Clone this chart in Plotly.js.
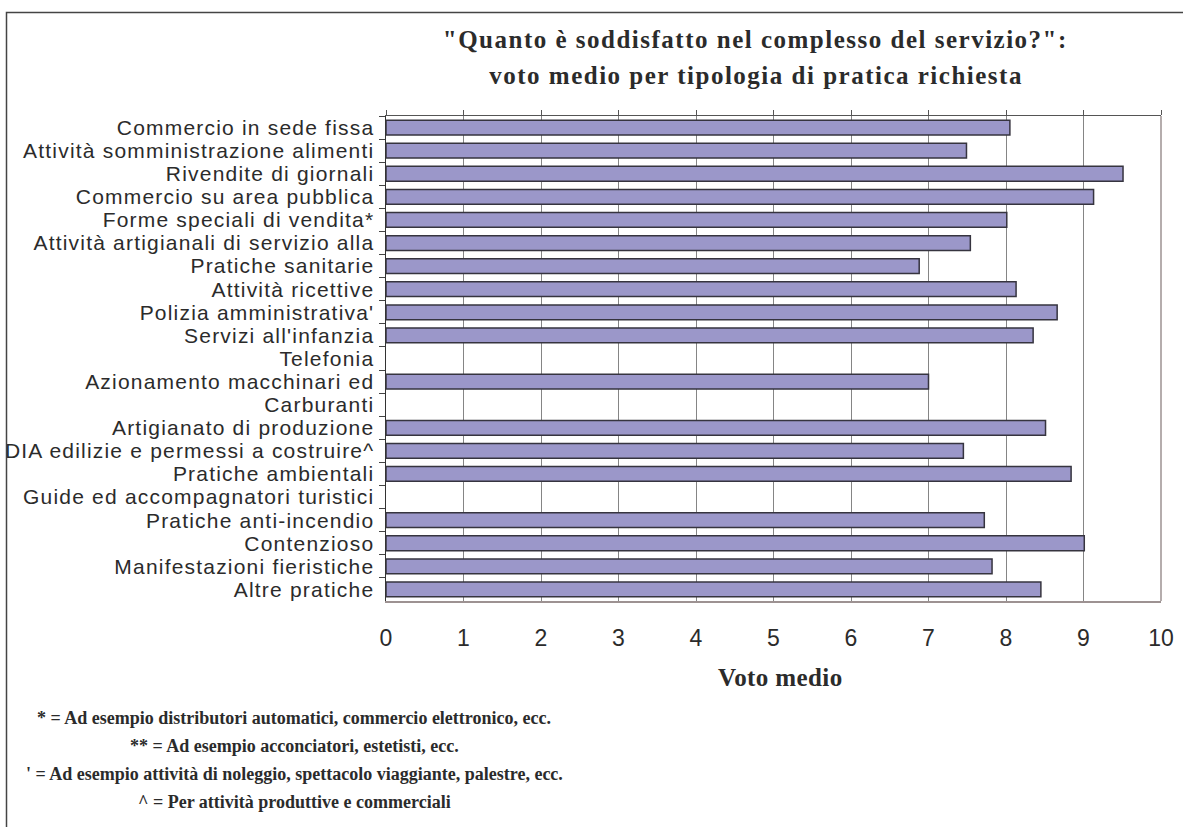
<!DOCTYPE html>
<html>
<head>
<meta charset="utf-8">
<script src="https://cdn.plot.ly/plotly-3.0.1.min.js"></script>
<style>
  html, body { margin: 0; padding: 0; background: #ffffff; }
  #chart { width: 1183px; height: 827px; }
  /* widen the glyph spacing of the category names and of the two title lines */
  #chart .ytick text { letter-spacing: 1.2px; }
  #chart .annotation[data-index="0"] text,
  #chart .annotation[data-index="1"] text { letter-spacing: 1.5px; }
  #chart .annotation[data-index="2"] text { letter-spacing: 0.4px; }
</style>
</head>
<body>
<div id="chart"></div>
<script>
// Tipologie di pratica, dall'alto verso il basso
const categorie = [
  "Commercio in sede fissa",
  "Attività somministrazione alimenti",
  "Rivendite di giornali",
  "Commercio su area pubblica",
  "Forme speciali di vendita*",
  "Attività artigianali di servizio alla",
  "Pratiche sanitarie",
  "Attività ricettive",
  "Polizia amministrativa'",
  "Servizi all'infanzia",
  "Telefonia",
  "Azionamento macchinari ed",
  "Carburanti",
  "Artigianato di produzione",
  "DIA edilizie e permessi a costruire^",
  "Pratiche ambientali",
  "Guide ed accompagnatori turistici",
  "Pratiche anti-incendio",
  "Contenzioso",
  "Manifestazioni fieristiche",
  "Altre pratiche"
];

// Voto medio per tipologia (null = nessuna risposta)
const votoMedio = [
  8.05, 7.49, 9.51, 9.13, 8.01, 7.54, 6.88, 8.13, 8.66, 8.35,
  null, 7.00, null, 8.51, 7.45, 8.84, null, 7.72, 9.01, 7.82, 8.45
];

const tickValori = [0, 1, 2, 3, 4, 5, 6, 7, 8, 9, 10];

const titoloRiga1 = "\"Quanto è soddisfatto nel complesso del servizio?\":";
const titoloRiga2 = "voto medio per tipologia di pratica richiesta";
const titoloAsse = "Voto medio";
const note = [
  "* = Ad esempio distributori automatici, commercio elettronico, ecc.",
  "** = Ad esempio acconciatori, estetisti, ecc.",
  "' = Ad esempio attività di noleggio, spettacolo viaggiante, palestre, ecc.",
  "^ = Per attività produttive e commerciali"
];

// page geometry: plot area spans x 386..1161, y 116..601
const W = 1183, H = 827;
const L = 386, R = 1161, T = 116, B = 601;
const px = x => (x - L) / (R - L);
const py = y => (B - y) / (B - T);

const serif = "Liberation Serif, Times New Roman, serif";
const sans = "Liberation Sans, Arial, sans-serif";
const ink = "#2b2b2b";

const traces = [
  {
    type: "bar",
    orientation: "h",
    x: votoMedio,
    y: categorie,
    marker: { color: "#9b97c9", line: { color: "#36343f", width: 1.5 } },
    hoverinfo: "x+y"
  },
  {
    // carries the upper value axis (line and outward ticks only)
    type: "scatter",
    mode: "markers",
    x: [],
    y: [],
    xaxis: "x2",
    yaxis: "y",
    showlegend: false,
    hoverinfo: "skip"
  }
];

const annotations = [
  { text: titoloRiga1, x: px(755), y: py(40), font: { family: serif, size: 25, color: ink, weight: "bold" } },
  { text: titoloRiga2, x: px(756), y: py(75), font: { family: serif, size: 25, color: ink, weight: "bold" } },
  { text: titoloAsse, x: px(780), y: py(677), font: { family: serif, size: 25, color: ink, weight: "bold" } }
];
const noteY = [718, 746, 774, 802];
note.forEach((t, i) => {
  annotations.push({
    text: t, x: px(294), y: py(noteY[i]),
    font: { family: serif, size: 18, color: ink, weight: "bold" }
  });
});
annotations.forEach(a => {
  a.xref = "paper"; a.yref = "paper";
  a.xanchor = "center"; a.yanchor = "middle";
  a.showarrow = false;
});

const layout = {
  width: W,
  height: H,
  margin: { l: L, r: W - R, t: T, b: H - B, pad: 0 },
  paper_bgcolor: "#ffffff",
  plot_bgcolor: "#ffffff",
  showlegend: false,
  bargap: 0.36,
  xaxis: {
    range: [0, 10],
    tickvals: tickValori,
    ticktext: tickValori.map(String),
    ticks: "",
    showline: true,
    linecolor: "#9d9292",
    linewidth: 1.5,
    showgrid: true,
    gridcolor: "#858585",
    gridwidth: 1,
    zeroline: false,
    ticklabelstandoff: 16,
    tickfont: { family: sans, size: 23, color: ink },
    fixedrange: true
  },
  xaxis2: {
    overlaying: "x",
    side: "top",
    anchor: "y",
    range: [0, 10],
    tickvals: tickValori,
    showticklabels: false,
    ticks: "outside",
    ticklen: 5,
    tickwidth: 1,
    tickcolor: "#555555",
    showline: true,
    linecolor: "#555555",
    linewidth: 1.5,
    showgrid: false,
    zeroline: false,
    fixedrange: true
  },
  yaxis: {
    type: "category",
    autorange: "reversed",
    tickmode: "linear",
    tick0: 0,
    dtick: 1,
    ticks: "outside",
    tickson: "boundaries",
    ticklen: 6,
    tickwidth: 1,
    tickcolor: "#444444",
    ticklabelstandoff: 6,
    showline: true,
    linecolor: "#333333",
    linewidth: 1.5,
    showgrid: false,
    zeroline: false,
    tickfont: { family: sans, size: 21, color: ink },
    fixedrange: true
  },
  shapes: [
    // right edge of the plot area
    { type: "line", xref: "paper", yref: "paper", x0: 1, x1: 1, y0: 0, y1: 1,
      line: { color: "#9d9292", width: 1.5 } },
    // frame round the whole chart
    { type: "rect", xref: "paper", yref: "paper",
      x0: px(6.5), x1: px(1200), y0: py(845), y1: py(12.5),
      line: { color: "#444444", width: 1.5 }, fillcolor: "rgba(0,0,0,0)" }
  ],
  annotations: annotations
};

Plotly.newPlot("chart", traces, layout, { displayModeBar: false, staticPlot: true });
</script>
</body>
</html>
